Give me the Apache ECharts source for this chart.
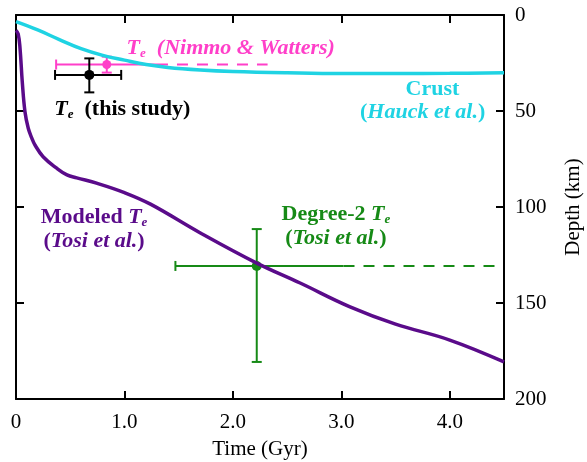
<!DOCTYPE html>
<html><head><meta charset="utf-8">
<script src="https://cdn.jsdelivr.net/npm/echarts@6/dist/echarts.min.js"></script>
<style>html,body{margin:0;padding:0;background:#fff}#c{width:587px;height:462px}</style>
</head><body><div id="c"></div>
<script>
// ---- data ----
const xTickLabels = ['0', '1.0', '2.0', '3.0', '4.0'];
const yTickLabels = ['0', '50', '100', '150', '200'];
const crustTime  = [0, 0.2, 0.4, 0.6, 0.8, 1.0, 1.2, 1.4, 1.7, 2.0, 2.5, 3.0, 3.5, 4.0, 4.5];
const crustDepth = [3.5, 7.8, 12.8, 17.5, 21, 23.5, 25.8, 27.3, 28.6, 29.4, 30.1, 30.5, 30.5, 30.4, 30.1];
const tosiTime  = [0.0, 0.02, 0.037, 0.058, 0.083, 0.113, 0.145, 0.175, 0.25, 0.375, 0.47, 0.56, 0.75, 1.0, 1.24, 1.7, 2.22, 2.62, 3.08, 3.5, 4.0, 4.5];
const tosiDepth = [8, 9.8, 17.2, 35, 50.5, 59, 64, 67.7, 73.8, 79.8, 83.3, 84.8, 87.7, 92.5, 98.5, 113.5, 129.2, 139.6, 152, 161, 169.3, 180.7];
// error bars: [time, depth, timeLow, timeHigh, depthLow, depthHigh]
const thisStudy = [0.676, 31.2, 0.36, 0.97, 22.6, 40.3];
const nimmoWatters = [0.837, 25.8, 0.37, 1.3, 21.7, 30.0];
const nimmoDashTime = [1.3, 2.32];
const degree2 = [2.22, 130.7, 1.47, 3.02, 111.5, 180.7];
const degree2DashTime = [3.02, 4.47];

const FONT = 'Liberation Serif';
const CYAN = '#1fd3e3', PURPLE = '#5a0b8a', PINK = '#ff3fc9', GREEN = '#168a16';

function zip(a, b) { return a.map((v, i) => [v, b[i]]); }

function errorBar(vals, color, capLeft, capRight, r, z) {
  return {
    type: 'custom', z: z, clip: false,
    renderItem: function (params, api) {
      const t = api.value(0), d = api.value(1), tl = api.value(2), th = api.value(3), dl = api.value(4), dh = api.value(5);
      const c = api.coord([t, d]), L = api.coord([tl, d]), R = api.coord([th, d]), T = api.coord([t, dl]), B = api.coord([t, dh]);
      const cap = 5, st = { stroke: color, lineWidth: 2 };
      const ch = [
        { type: 'line', shape: { x1: L[0], y1: L[1], x2: R[0], y2: R[1] }, style: st },
        { type: 'line', shape: { x1: T[0], y1: T[1], x2: B[0], y2: B[1] }, style: st },
        { type: 'line', shape: { x1: T[0] - cap, y1: T[1], x2: T[0] + cap, y2: T[1] }, style: st },
        { type: 'line', shape: { x1: B[0] - cap, y1: B[1], x2: B[0] + cap, y2: B[1] }, style: st }
      ];
      if (capLeft) ch.push({ type: 'line', shape: { x1: L[0], y1: L[1] - cap, x2: L[0], y2: L[1] + cap }, style: st });
      if (capRight) ch.push({ type: 'line', shape: { x1: R[0], y1: R[1] - cap, x2: R[0], y2: R[1] + cap }, style: st });
      ch.push({ type: 'circle', shape: { cx: c[0], cy: c[1], r: r }, style: { fill: color } });
      return { type: 'group', children: ch };
    },
    data: [vals]
  };
}

function rich(color) {
  const base = { color: color, opacity: 1, fontFamily: FONT, fontSize: 22, fontWeight: 'bold', lineHeight: 24 };
  return {
    b: Object.assign({}, base),
    i: Object.assign({}, base, { fontStyle: 'italic' }),
    s: Object.assign({}, base, { fontStyle: 'italic', fontSize: 13, lineHeight: 13, verticalAlign: 'bottom' })
  };
}
function textSeries(t, d, text, color) {
  return {
    type: 'scatter', symbolSize: 0, z: 10, silent: true,
    itemStyle: { opacity: 1 },
    emphasis: { disabled: true },
    data: [[t, d]],
    label: { show: true, opacity: 1, position: 'inside', align: 'center', verticalAlign: 'middle',
      formatter: text, rich: rich(color) }
  };
}

const axisCommon = {
  axisLine: { show: true, onZero: false, lineStyle: { color: '#000', width: 2 } },
  axisTick: { show: true, inside: true, length: 8, lineStyle: { color: '#000', width: 2 } },
  splitLine: { show: false }
};

const chart = echarts.init(document.getElementById('c'), null, { renderer: 'canvas' });
chart.setOption({
  animation: false,
  backgroundColor: '#fff',
  grid: { left: 16, right: 83, top: 15, bottom: 63, containLabel: false, outerBoundsMode: 'none' },
  xAxis: [
    Object.assign({}, axisCommon, {
      type: 'value', min: 0, max: 4.5, interval: 1, position: 'bottom',
      axisLabel: { show: true, color: '#000', fontFamily: FONT, fontSize: 21, margin: 13, showMaxLabel: false,
        formatter: v => (Number.isInteger(v) && v < xTickLabels.length) ? xTickLabels[v] : '' },
      name: 'Time (Gyr)', nameLocation: 'middle', nameGap: 40,
      nameTextStyle: { color: '#000', fontFamily: FONT, fontSize: 21 }
    }),
    Object.assign({}, axisCommon, {
      type: 'value', min: 0, max: 4.5, interval: 1, position: 'top',
      axisLabel: { show: false }
    })
  ],
  yAxis: [
    Object.assign({}, axisCommon, {
      type: 'value', min: 0, max: 200, interval: 50, inverse: true, position: 'right',
      axisLabel: { show: true, color: '#000', fontFamily: FONT, fontSize: 21, margin: 11,
        formatter: v => yTickLabels[v / 50] },
      name: 'Depth (km)', nameLocation: 'middle', nameGap: 59, nameRotate: 90,
      nameTextStyle: { color: '#000', fontFamily: FONT, fontSize: 21 }
    }),
    Object.assign({}, axisCommon, {
      type: 'value', min: 0, max: 200, interval: 50, inverse: true, position: 'left',
      axisLabel: { show: false }
    })
  ],
  series: [
    errorBar(nimmoWatters, PINK, true, false, 4.5, 2),
    { type: 'line', z: 2, symbol: 'none', data: nimmoDashTime.map(t => [t, nimmoWatters[1]]),
      lineStyle: { color: PINK, width: 2, type: [11, 9] } },
    errorBar(degree2, GREEN, true, false, 5, 2),
    { type: 'line', z: 2, symbol: 'none', data: degree2DashTime.map(t => [t, degree2[1]]),
      lineStyle: { color: GREEN, width: 2, type: [11, 9] } },
    { type: 'line', z: 3, symbol: 'none', smooth: 0.4, data: zip(crustTime, crustDepth),
      lineStyle: { color: CYAN, width: 3.5 } },
    { type: 'line', z: 3, symbol: 'none', smooth: 0.4, data: zip(tosiTime, tosiDepth),
      lineStyle: { color: PURPLE, width: 3.5 } },
    errorBar(thisStudy, '#000', true, true, 5, 4),
    textSeries(1.98, 17.2, '{i|T}{s|e}{i|  (Nimmo & Watters)}', PINK),
    textSeries(0.98, 49, '{i|T}{s|e}{b|  (this study)}', '#000'),
    textSeries(3.84, 38.5, '{b|Crust}', CYAN),
    textSeries(3.75, 50.5, '{b|(}{i|Hauck et al.}{b|)}', CYAN),
    textSeries(0.72, 111.5, '{b|Modeled }{i|T}{s|e}\n{b|(}{i|Tosi et al.}{b|)}', PURPLE),
    textSeries(2.95, 109.8, '{b|Degree-2 }{i|T}{s|e}\n{b|(}{i|Tosi et al.}{b|)}', GREEN)
  ]
});
</script>
</body></html>
